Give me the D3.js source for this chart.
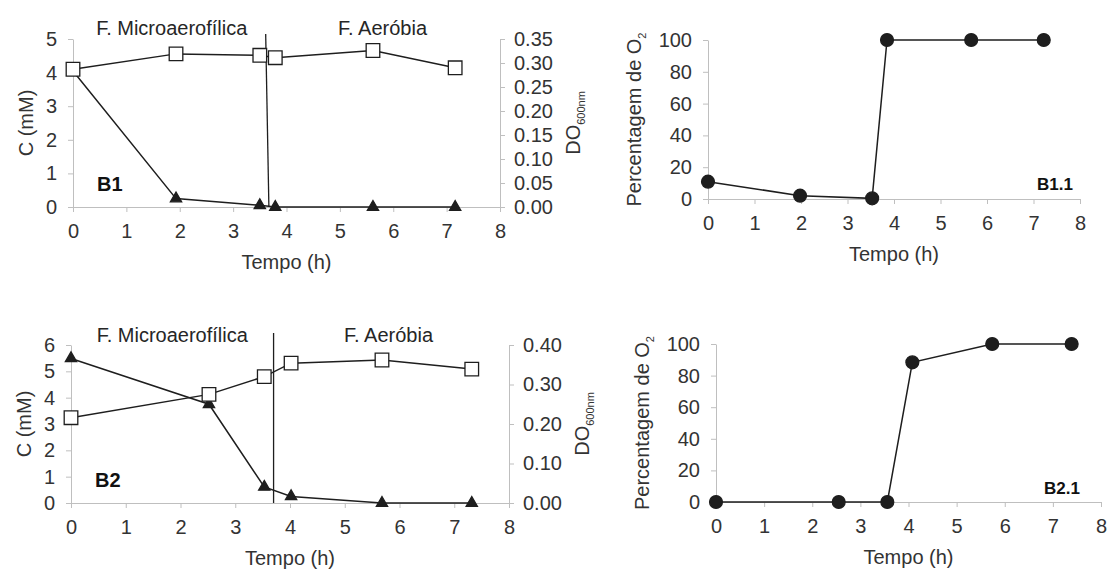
<!DOCTYPE html>
<html>
<head>
<meta charset="utf-8">
<script src="https://cdn.jsdelivr.net/npm/d3@7"></script>
<style>
body { margin: 0; background: #fff; }
svg text { font-family: "Liberation Sans", Arial, sans-serif; }
</style>
</head>
<body>
<div id="chart"></div>
<script>
// B1 - concentracao (triangulos) e DO (quadrados)
var tempoB1 = [0, 1.93, 3.5, 3.79, 5.62, 7.16];
var concB1 = [4.05, 0.25, 0.05, 0, 0, 0];
var doB1 = [0.287, 0.319, 0.316, 0.311, 0.326, 0.290];

// B2
var tempoB2 = [0, 2.52, 3.53, 4.02, 5.68, 7.32];
var concB2 = [5.49, 3.75, 0.61, 0.25, 0, 0];
var doB2 = [0.216, 0.275, 0.320, 0.354, 0.362, 0.339];

// B1.1 - percentagem de O2
var tempoB11 = [0, 1.98, 3.53, 3.85, 5.66, 7.22];
var o2B11 = [10.9, 2.1, 0.4, 100, 100, 100];

// B2.1
var tempoB21 = [0, 2.55, 3.56, 4.08, 5.74, 7.39];
var o2B21 = [0, 0, 0, 88.4, 100, 100];

// ticks
var ticksTempo = [0, 1, 2, 3, 4, 5, 6, 7, 8];
var ticksCB1 = [0, 1, 2, 3, 4, 5];
var ticksCB2 = [0, 1, 2, 3, 4, 5, 6];
var ticksDoB1 = [0, 0.05, 0.10, 0.15, 0.20, 0.25, 0.30, 0.35];
var ticksDoB2 = [0, 0.10, 0.20, 0.30, 0.40];
var ticksO2 = [0, 20, 40, 60, 80, 100];

// fases
var fases = ["F. Microaerofílica", "F. Aeróbia"];
var faseTempo = [1.85, 5.8];
var divisorB1 = [3.61, 3.67];
var divisorB2 = [3.70, 3.70];

var axisColor = "#bfbfbf",
    textColor = "#333",
    lineColor = "#1e1e1e",
    fontSize = "20px";

var svg = d3.select("#chart").append("svg")
    .attr("width", 1108).attr("height", 571);

function estilo(g) {
  g.attr("font-family", null).attr("font-size", null);
  g.select(".domain").attr("stroke", axisColor);
  g.selectAll(".tick line").attr("stroke", axisColor);
  g.selectAll(".tick text").attr("fill", textColor).style("font-size", fontSize);
}

function eixoX(x, yPos) {
  var ax = d3.axisBottom(x).tickValues(ticksTempo).tickFormat(d3.format("d"))
      .tickSize(5).tickSizeOuter(0).tickPadding(12);
  svg.append("g").attr("transform", "translate(0," + yPos + ")").call(ax).call(estilo);
}

function eixoY(y, xPos, ticks, fmt, lado) {
  var ax = (lado == "right" ? d3.axisRight(y) : d3.axisLeft(y))
      .tickValues(ticks).tickFormat(d3.format(fmt))
      .tickSize(5).tickSizeOuter(0).tickPadding(lado == "right" ? 9 : 11);
  svg.append("g").attr("transform", "translate(" + xPos + ",0)").call(ax).call(estilo);
}

function tituloY(xPos, yPos, texto, sub) {
  var t = svg.append("text")
      .attr("transform", "translate(" + xPos + "," + yPos + ") rotate(-90)")
      .attr("text-anchor", "middle")
      .attr("fill", textColor)
      .style("font-size", fontSize)
      .text(texto);
  if (sub) {
    t.append("tspan").attr("dy", 5).style("font-size", "11px").text(sub);
  }
}

function tituloX(xPos, yPos) {
  svg.append("text")
      .attr("x", xPos).attr("y", yPos)
      .attr("text-anchor", "middle")
      .attr("fill", textColor)
      .style("font-size", fontSize)
      .text("Tempo (h)");
}

function serie(tempo, vals, x, y) {
  var idx = d3.range(tempo.length);
  svg.append("path")
      .attr("d", d3.line().x(function(i) { return x(tempo[i]); })
                         .y(function(i) { return y(vals[i]); })(idx))
      .attr("fill", "none")
      .attr("stroke", lineColor)
      .attr("stroke-width", 1.5);
  return idx;
}

function marcadores(idx, tempo, vals, x, y, simbolo, tamanho, fill) {
  svg.selectAll(null).data(idx).enter().append("path")
      .attr("transform", function(i) { return "translate(" + x(tempo[i]) + "," + y(vals[i]) + ")"; })
      .attr("d", d3.symbol().type(simbolo).size(tamanho))
      .attr("fill", fill)
      .attr("stroke", lineColor)
      .attr("stroke-width", 1.3);
}

function painelC(p) {
  var x = d3.scaleLinear().domain([0, 8]).range([p.x0, p.x1]);
  var yC = d3.scaleLinear().domain([0, p.cMax]).range([p.yBot, p.yTop]);
  var yD = d3.scaleLinear().domain([0, p.doMax]).range([p.yBot, p.yTop]);

  eixoX(x, p.yBot);
  eixoY(yC, p.x0, p.cTicks, "d", "left");
  eixoY(yD, p.x1, p.doTicks, ".2f", "right");

  // divisor das fases
  svg.append("line")
      .attr("x1", x(p.divisor[0])).attr("y1", p.divTop)
      .attr("x2", x(p.divisor[1])).attr("y2", p.yBot)
      .attr("stroke", lineColor).attr("stroke-width", 1.3);

  var iC = serie(p.tempo, p.conc, x, yC);
  var iD = serie(p.tempo, p.od, x, yD);
  marcadores(iC, p.tempo, p.conc, x, yC, d3.symbolTriangle, 55, lineColor);
  marcadores(iD, p.tempo, p.od, x, yD, d3.symbolSquare, 185, "#fff");

  fases.forEach(function(f, i) {
    svg.append("text")
        .attr("x", x(faseTempo[i])).attr("y", p.faseY)
        .attr("text-anchor", "middle")
        .attr("fill", "#262626")
        .style("font-size", fontSize)
        .text(f);
  });

  svg.append("text")
      .attr("x", p.x0 + 24).attr("y", p.rotY)
      .attr("fill", "#111")
      .style("font-size", fontSize).style("font-weight", "bold")
      .text(p.rotulo);

  tituloY(p.x0 - 40, (p.yTop + p.yBot) / 2, "C (mM)");
  tituloY(p.x1 + 80, (p.yTop + p.yBot) / 2, "DO", "600nm");
  tituloX((p.x0 + p.x1) / 2, p.yBot + 62);
}

function painelO2(p) {
  var x = d3.scaleLinear().domain([0, 8]).range([p.x0, p.x1]);
  var y = d3.scaleLinear().domain([0, 100]).range([p.yBot, p.yTop]);

  eixoX(x, p.yBot);
  eixoY(y, p.x0, ticksO2, "d", "left");

  var idx = serie(p.tempo, p.o2, x, y);
  marcadores(idx, p.tempo, p.o2, x, y, d3.symbolCircle, 130, lineColor);

  svg.append("text")
      .attr("x", p.rotX).attr("y", p.rotY)
      .attr("text-anchor", "end")
      .attr("fill", "#111")
      .style("font-size", "17px").style("font-weight", "bold")
      .text(p.rotulo);

  tituloY(p.x0 - 67, (p.yTop + p.yBot) / 2, "Percentagem de O", "2");
  tituloX((p.x0 + p.x1) / 2, p.yBot + 62);
}

painelC({ x0: 73, x1: 500, yTop: 39, yBot: 207,
  tempo: tempoB1, conc: concB1, od: doB1,
  cMax: 5, cTicks: ticksCB1, doMax: 0.35, doTicks: ticksDoB1,
  divisor: divisorB1, divTop: 34, faseY: 35, rotulo: "B1", rotY: 191 });

painelC({ x0: 71, x1: 509, yTop: 345, yBot: 503,
  tempo: tempoB2, conc: concB2, od: doB2,
  cMax: 6, cTicks: ticksCB2, doMax: 0.40, doTicks: ticksDoB2,
  divisor: divisorB2, divTop: 333, faseY: 342, rotulo: "B2", rotY: 487 });

painelO2({ x0: 708, x1: 1080, yTop: 40, yBot: 199,
  tempo: tempoB11, o2: o2B11, rotulo: "B1.1", rotX: 1073, rotY: 190 });

painelO2({ x0: 716, x1: 1101, yTop: 344, yBot: 502,
  tempo: tempoB21, o2: o2B21, rotulo: "B2.1", rotX: 1080, rotY: 494 });
</script>
</body>
</html>
